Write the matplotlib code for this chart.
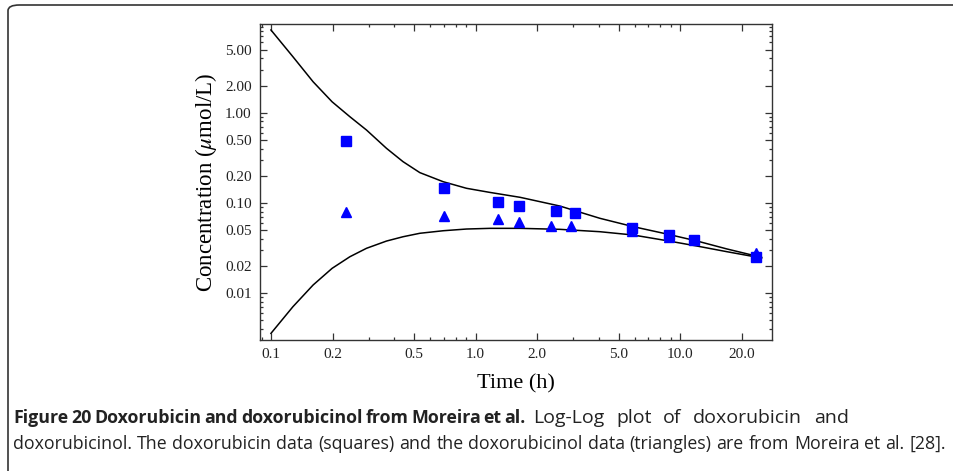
import matplotlib
matplotlib.use("Agg")
import matplotlib.pyplot as plt
from matplotlib.patches import FancyBboxPatch
from matplotlib.ticker import FixedLocator, LogLocator, NullFormatter, FixedFormatter

plt.rcParams["mathtext.fontset"] = "stix"

# Data
dox_t = [0.233, 0.702, 1.29, 1.63, 2.46, 3.05, 5.83, 8.85, 11.7, 23.5]
dox_c = [0.486, 0.147, 0.103, 0.093, 0.082, 0.078, 0.053, 0.044, 0.039, 0.0254]
dol_t = [0.233, 0.702, 1.29, 1.63, 2.34, 2.92, 5.83, 8.85, 23.5]
dol_c = [0.080, 0.072, 0.066, 0.0616, 0.0556, 0.0552, 0.0491, 0.0425, 0.0277]

fit_dox_t = [0.1, 0.128, 0.1607, 0.199, 0.243, 0.293, 0.367, 0.442, 0.534, 0.695, 0.903,
             1.05, 1.175, 1.65, 2.58, 4.05, 5.90, 8.59, 12.05, 16.9, 25.0]
fit_dox_c = [8.24, 4.17, 2.20, 1.32, 0.903, 0.643, 0.403, 0.287, 0.217, 0.172, 0.1455,
             0.137, 0.131, 0.1156, 0.0926, 0.0677, 0.0547, 0.0454, 0.0380, 0.0310, 0.0250]
fit_dol_t = [0.1, 0.128, 0.1607, 0.199, 0.243, 0.293, 0.367, 0.442, 0.534, 0.695, 0.903,
             1.175, 1.65, 2.58, 4.05, 5.90, 8.59, 12.05, 16.9, 25.0]
fit_dol_c = [0.0036, 0.0071, 0.01236, 0.0189, 0.0254, 0.0315, 0.0379, 0.0423, 0.0462, 0.0493, 0.0515,
             0.0524, 0.0524, 0.0511, 0.0481, 0.0442, 0.0383, 0.0334, 0.0289, 0.0246]

xticks = [0.1, 0.2, 0.5, 1.0, 2.0, 5.0, 10.0, 20.0]
xticklabels = ["0.1", "0.2", "0.5", "1.0", "2.0", "5.0", "10.0", "20.0"]
yticks = [0.01, 0.02, 0.05, 0.10, 0.20, 0.50, 1.00, 2.00, 5.00]
yticklabels = ["0.01", "0.02", "0.05", "0.10", "0.20", "0.50", "1.00", "2.00", "5.00"]

fig = plt.figure(figsize=(9.54, 4.71), dpi=100)
W, H = 954, 471

# outer rounded frame
frame = FancyBboxPatch((8 / W, -0.1), 1.2, 1.1 - 5 / H,
                       boxstyle="round,pad=0,rounding_size=0.012",
                       transform=fig.transFigure, fill=False,
                       edgecolor="#333333", linewidth=1.2, clip_on=False)
fig.patches.append(frame)

ax = fig.add_axes([260 / W, 1 - 340 / H, (772 - 260) / W, (340 - 24) / H])
ax.set_xscale("log")
ax.set_yscale("log")
ax.set_xlim(0.0884, 28.1)
ax.set_ylim(0.00304, 9.6)

ax.plot(fit_dox_t, fit_dox_c, color="black", lw=1.1)
ax.plot(fit_dol_t, fit_dol_c, color="black", lw=1.1)
ax.plot(dol_t, dol_c, linestyle="none", marker="^", color="#0000ff", markersize=6.5)
ax.plot(dox_t, dox_c, linestyle="none", marker="s", color="#0000ff", markersize=7)

serif = ["Liberation Serif", "DejaVu Serif"]
ax.xaxis.set_major_locator(FixedLocator(xticks))
ax.xaxis.set_major_formatter(FixedFormatter(xticklabels))
ax.xaxis.set_minor_locator(LogLocator(base=10, subs=[2, 3, 4, 5, 6, 7, 8, 9], numticks=20))
ax.xaxis.set_minor_formatter(NullFormatter())
ax.yaxis.set_major_locator(FixedLocator(yticks))
ax.yaxis.set_major_formatter(FixedFormatter(yticklabels))
ax.yaxis.set_minor_locator(LogLocator(base=10, subs=[2, 3, 4, 5, 6, 7, 8, 9], numticks=20))
ax.yaxis.set_minor_formatter(NullFormatter())

ax.tick_params(which="both", direction="in", top=True, right=True, width=0.9, colors="#333333")
ax.tick_params(which="major", length=5, labelsize=11, labelcolor="#222222", pad=6)
ax.tick_params(which="minor", length=2.5)
for lab in ax.get_xticklabels() + ax.get_yticklabels():
    lab.set_family(serif)
for s in ax.spines.values():
    s.set_linewidth(1.0)
    s.set_color("#333333")

ax.set_xlabel("Time (h)", fontsize=16, family=serif, labelpad=9)
ax.set_ylabel(r"Concentration ($\mu$mol/L)", fontsize=16.5, family=serif, labelpad=4)

# caption (words spread between measured edges)
cap_font = ["Open Sans", "DejaVu Sans"]
renderer = fig.canvas.get_renderer()


def place_words(words, x0, x1, ybase, size, weight="normal"):
    arts = [fig.text(0, 1 - ybase / H, w, fontsize=size, fontweight=weight,
                     family=cap_font, va="baseline", color="#222222") for w in words]
    widths = [a.get_window_extent(renderer).width for a in arts]
    gap = (x1 - x0 - sum(widths)) / max(len(words) - 1, 1)
    x = x0
    for a, w in zip(arts, widths):
        a.set_x(x / W)
        x += w + gap


line1_bold = "Figure 20 Doxorubicin and doxorubicinol from Moreira et al.".split()
line1_norm = "Log-Log plot of doxorubicin and".split()
line2 = ("doxorubicinol. The doxorubicin data (squares) and the doxorubicinol data "
         "(triangles) are from Moreira et al. [28].").split()
place_words(line1_bold, 13, 526, 423, 12.8, "bold")
place_words(line1_norm, 533, 849, 423, 14.0)
place_words(line2, 13, 946, 449, 12.8)

fig.savefig("out.png", dpi=100)
